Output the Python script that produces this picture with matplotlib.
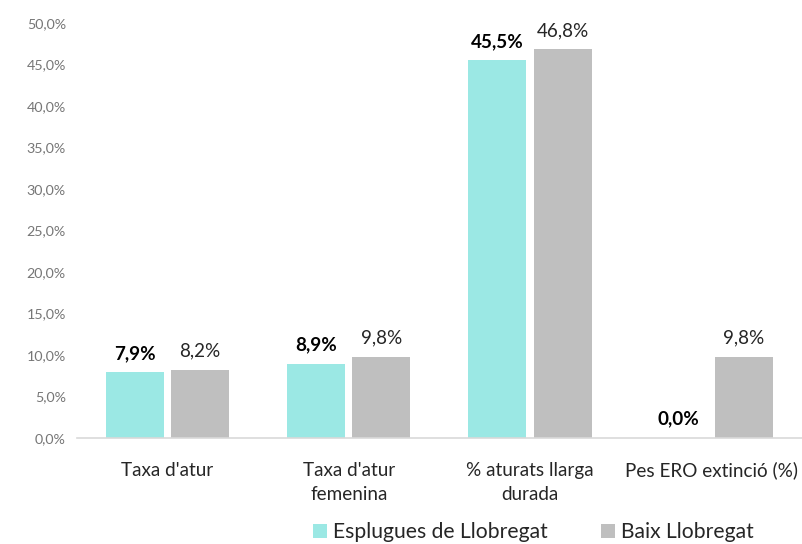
import numpy as np
import matplotlib
matplotlib.use("Agg")
import matplotlib.pyplot as plt
from matplotlib.ticker import FuncFormatter

# data
categories = ["Taxa d'atur", "Taxa d'atur\nfemenina", "% aturats llarga\ndurada", "Pes ERO extinció (%)"]
esplugues = [7.9, 8.9, 45.5, 0.0]
baix = [8.2, 9.8, 46.8, 9.8]
series_names = ["Esplugues de Llobregat", "Baix Llobregat"]

COLOR_ESP = "#9BE8E4"
COLOR_BAIX = "#BFBFBF"

plt.rcParams["font.family"] = ["Lato", "DejaVu Sans"]


def pct(v):
    return f"{v:.1f}".replace(".", ",") + "%"


fig = plt.figure(figsize=(8.02, 5.44), dpi=100)
ax = fig.add_axes([0.096, 0.195, 0.904, 0.763])

x = np.arange(len(categories))
w = 0.32
off = 0.18

b1 = ax.bar(x - off, esplugues, w, color=COLOR_ESP, label=series_names[0])
b2 = ax.bar(x + off, baix, w, color=COLOR_BAIX, label=series_names[1])

for rect, v in zip(b1, esplugues):
    ax.annotate(pct(v), (rect.get_x() + rect.get_width() / 2, v),
                xytext=(0, 7.5), textcoords="offset points",
                ha="center", va="bottom", fontsize=13.6, fontweight="bold",
                color="#000000")
for rect, v in zip(b2, baix):
    ax.annotate(pct(v), (rect.get_x() + rect.get_width() / 2, v),
                xytext=(0, 7.5), textcoords="offset points",
                ha="center", va="bottom", fontsize=13.6, color="#262626")

ax.set_xlim(-0.5, len(categories) - 0.5)
ax.set_ylim(0, 50)
ax.set_yticks(np.arange(0, 50.1, 5))
ax.yaxis.set_major_formatter(FuncFormatter(lambda v, p: pct(v)))
ax.set_xticks(x)
ax.set_xticklabels(categories, fontsize=13.6, color="#262626", linespacing=1.55)
ax.tick_params(axis="y", length=0, labelsize=10.3, labelcolor="#767676", pad=8)
ax.tick_params(axis="x", length=0, pad=17)

for s in ["top", "right", "left"]:
    ax.spines[s].set_visible(False)
ax.spines["bottom"].set_color("#D9D9D9")
ax.spines["bottom"].set_linewidth(1.2)

leg = fig.legend(loc="center", bbox_to_anchor=(0.665, 0.022), ncol=2, frameon=False,
                 fontsize=15.2, handlelength=0.66, handleheight=0.66,
                 handletextpad=0.3, columnspacing=2.5, borderpad=0)
for t in leg.get_texts():
    t.set_color("#262626")

fig.savefig("out.png", dpi=100)
